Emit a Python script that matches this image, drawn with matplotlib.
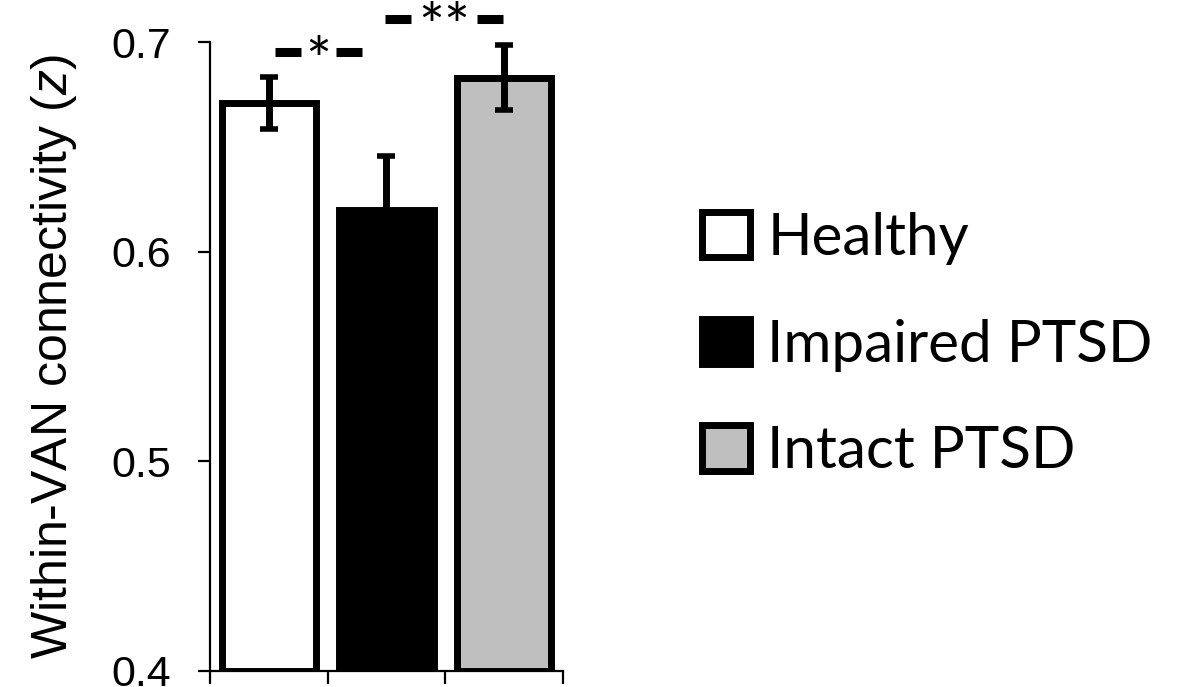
import matplotlib
matplotlib.use("Agg")
import matplotlib.pyplot as plt
import numpy as np

groups = ["Healthy", "Impaired PTSD", "Intact PTSD"]
means = [0.671, 0.620, 0.683]
errors = [0.0125, 0.0255, 0.0155]
colors = ["white", "black", "#bfbfbf"]
y_ticks = [0.4, 0.5, 0.6, 0.7]
y_label = "Within-VAN connectivity ($\\it{z}$)"
# significance markers: label, centre (x, data units), half-width, y level
sig_labels = ["*", "**"]
sig_centers = [0.42, 1.49]
sig_halfwidths = [0.37, 0.50]
sig_levels = [0.695, 0.711]

plt.rcParams["font.family"] = ["Liberation Sans", "DejaVu Sans"]
plt.rcParams["mathtext.fontset"] = "custom"
plt.rcParams["mathtext.it"] = "Liberation Sans:italic"
plt.rcParams["mathtext.rm"] = "Liberation Sans"

fig = plt.figure(figsize=(11.83, 6.87), dpi=100)
ax = fig.add_axes([210/1183, 16/687, 353/1183, 629/687])

x = np.arange(len(groups))
bars = ax.bar(x, [m - 0.4 for m in means], bottom=0.4, width=0.8, color=colors,
              edgecolor="black", linewidth=5, label=groups, zorder=2)
ax.errorbar(x, means, yerr=errors, fmt="none", ecolor="black", elinewidth=5,
            capsize=6.5, capthick=4, zorder=3)

ax.set_xlim(-0.5, len(groups) - 0.5)
ax.set_ylim(0.4, 0.7)
ax.set_yticks(y_ticks)
ax.set_yticklabels([f"{t:.1f}" for t in y_ticks])
ax.set_xticks(np.arange(len(groups) + 1) - 0.5)
ax.set_xticklabels([])
ax.tick_params(axis="y", direction="out", length=9, width=1.6, labelsize=31, pad=19)
ax.tick_params(axis="x", direction="out", length=9, width=1.6)
for s in ["top", "right"]:
    ax.spines[s].set_visible(False)
ax.spines["left"].set_linewidth(1.6)
ax.spines["bottom"].set_linewidth(1.6)
ax.set_ylabel(y_label, fontsize=36, labelpad=23)

# significance markers: dash  star(s)  dash
dash = 0.22
for lab, c, hw, yv in zip(sig_labels, sig_centers, sig_halfwidths, sig_levels):
    ax.plot([c - hw, c - hw + dash], [yv, yv], color="black", lw=6.5,
            solid_capstyle="butt", clip_on=False)
    ax.plot([c + hw - dash, c + hw], [yv, yv], color="black", lw=6.5,
            solid_capstyle="butt", clip_on=False)
    ax.annotate(lab, xy=(c, yv), xytext=(0, -21), textcoords="offset points",
                ha="center", va="baseline", fontsize=44, family="Lato",
                annotation_clip=False)

leg = ax.legend(handles=bars, labels=groups, loc="center left",
                bbox_to_anchor=(702/1183, 342/687), bbox_transform=fig.transFigure,
                frameon=False, prop={"family": "Lato", "size": 42},
                handlelength=0.82, handleheight=0.82, handletextpad=0.3,
                labelspacing=0.92, borderpad=0, borderaxespad=0)

fig.savefig("out.png", dpi=100)
